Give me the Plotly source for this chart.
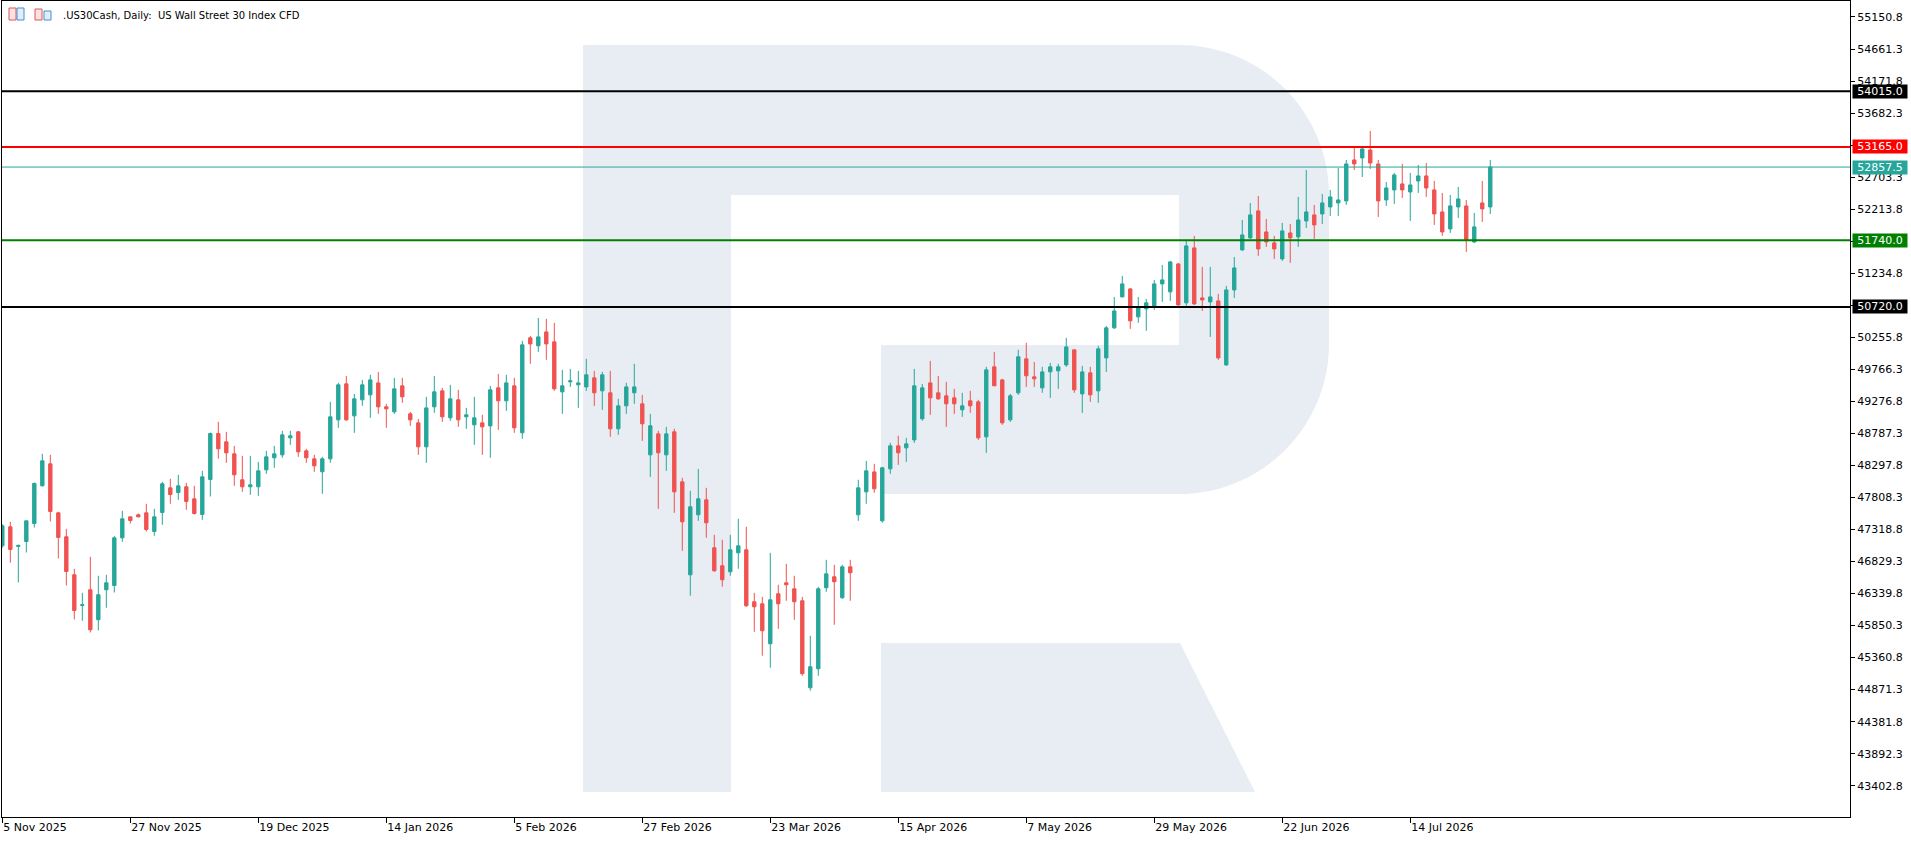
import plotly.graph_objects as go
import pandas as pd

# ---------------- data ----------------
HOLIDAYS = ["2025-12-25", "2026-01-01", "2026-04-03"]
N_BARS = 187
_bdays = pd.bdate_range("2025-11-05", periods=200)
dates = [d.strftime("%Y-%m-%d") for d in _bdays if d.strftime("%Y-%m-%d") not in HOLIDAYS][:N_BARS]

open_ = [47069, 47359, 47060, 47135, 47410, 47986, 48322, 47573, 47207, 46626,
         46158, 46397, 45939, 46397, 46463, 47191, 47512, 47543, 47573, 47288,
         47579, 47955, 47884, 47971, 47787, 47548, 48083, 48785, 48658, 48475,
         48078, 47971, 47971, 48230, 48414, 48459, 48719, 48811, 48520, 48398,
         48200, 48398, 48994, 49544, 49055, 49300, 49376, 49559, 49193, 49116,
         49514, 49086, 48948, 48582, 49193, 49437, 49025, 49300, 49040, 48918,
         48948, 48902, 49483, 49285, 49514, 48796, 50247, 50125, 50338, 50186,
         49422, 49575, 49529, 49498, 49636, 49437, 49407, 48857, 49208, 49407,
         49239, 48459, 48780, 48459, 48811, 48047, 46626, 47543, 47772, 47039,
         46764, 46672, 46962, 47008, 46214, 46183, 45572, 46336, 46504, 46412,
         46229, 44900, 45190, 46428, 46596, 46275, 46748, 47543, 47894, 48199,
         47451, 48245, 48597, 48566, 48688, 49010, 49559, 49407, 49361, 49330,
         49147, 49285, 49269, 48734, 49804, 49605, 48994, 49407, 49926, 49651,
         49483, 49728, 49743, 49834, 50064, 49391, 49712, 49437, 49941, 50400,
         50873, 50995, 50568, 50690, 50720, 51072, 50950, 51377, 50782, 51622,
         50858, 50797, 50812, 49834, 50980, 51591, 51775, 52187, 51866, 51698,
         51454, 51851, 51790, 52034, 52126, 52141, 52248, 52309, 52340, 52966,
         52997, 53119, 52905, 52355, 52508, 52600, 52477, 52645, 52722, 52508,
         52172, 51912, 52248, 52263, 51713, 52309, 52248]
high = [47400, 47436, 47085, 47451, 48037, 48475, 48459, 47589, 47329, 46718,
        46351, 46901, 46611, 46626, 47217, 47604, 47512, 47563, 47711, 47634,
        48047, 48093, 48154, 48032, 47986, 48215, 48801, 48964, 48811, 48597,
        48444, 48444, 48352, 48521, 48597, 48826, 48826, 48826, 48551, 48459,
        48429, 49269, 49559, 49666, 49391, 49605, 49682, 49727, 49239, 49636,
        49636, 49116, 49009, 49346, 49666, 49483, 49529, 49453, 49178, 49346,
        49071, 49514, 49697, 49682, 49636, 50201, 50277, 50552, 50537, 50476,
        49758, 49773, 49743, 49926, 49743, 49727, 49743, 49315, 49559, 49850,
        49376, 49086, 48826, 48887, 48857, 48108, 47909, 48245, 47955, 47237,
        47161, 47237, 47482, 47360, 46351, 46290, 46962, 46474, 46794, 46611,
        46290, 45694, 46443, 46855, 46779, 46779, 46855, 48078, 48368, 48322,
        48276, 48643, 48750, 48719, 49773, 49544, 49895, 49666, 49575, 49468,
        49407, 49437, 49300, 49804, 50033, 49621, 49391, 50064, 50171, 49880,
        49804, 49865, 49850, 50247, 50064, 49819, 49804, 50125, 50430, 50873,
        51194, 51011, 50873, 50843, 51133, 51362, 51423, 51393, 51729, 51805,
        51332, 51332, 50919, 51041, 51484, 52049, 52309, 52416, 52065, 51805,
        52004, 51988, 52401, 52813, 52279, 52447, 52508, 52844, 52966, 53150,
        53150, 53409, 52966, 52630, 52768, 52905, 52768, 52890, 52920, 52645,
        52462, 52431, 52554, 52355, 52156, 52645, 52966]
low = [47040, 46810, 46509, 46967, 47349, 47976, 47441, 46876, 46463, 45944,
       45924, 45745, 45776, 46122, 46356, 47130, 47410, 47502, 47288, 47222,
       47390, 47711, 47772, 47619, 47548, 47467, 47823, 48400, 48337, 47986,
       47894, 47848, 47833, 48169, 48261, 48414, 48612, 48429, 48337, 48200,
       47864, 48337, 48872, 48979, 48796, 49208, 49025, 49086, 48872, 49086,
       49254, 48902, 48459, 48337, 49101, 48963, 48979, 48887, 48857, 48612,
       48459, 48414, 48841, 49132, 48796, 48704, 49850, 50033, 49911, 49437,
       49086, 49498, 49177, 49437, 49208, 49147, 48735, 48765, 49086, 49239,
       48673, 48123, 47634, 48215, 47573, 46993, 46306, 47451, 47191, 46672,
       46443, 46611, 46718, 46137, 45755, 45389, 45206, 45801, 46229, 45938,
       45083, 44854, 45083, 46366, 45862, 46260, 46229, 47451, 47711, 47879,
       47421, 48169, 48306, 48352, 48643, 48979, 49071, 49300, 48887, 49086,
       49040, 49101, 48689, 48490, 49514, 48918, 48963, 49376, 49498, 49498,
       49407, 49330, 49468, 49804, 49407, 49101, 49269, 49254, 49727, 50384,
       50873, 50384, 50476, 50354, 50675, 50797, 50812, 50736, 50736, 50751,
       50659, 50262, 49911, 49819, 50858, 51576, 51759, 51500, 51637, 51454,
       51423, 51393, 51637, 51927, 51759, 51988, 52111, 52111, 52279, 52813,
       52706, 52829, 52095, 52263, 52294, 52386, 52034, 52462, 52401, 51973,
       51805, 51851, 52080, 51561, 51698, 52019, 52141]
close = [47375, 47013, 47075, 47451, 48022, 48368, 47594, 47197, 46677, 46081,
         46168, 45786, 46321, 46504, 47191, 47482, 47456, 47512, 47319, 47512,
         48017, 47853, 47986, 47747, 47563, 48123, 48785, 48551, 48490, 48154,
         47971, 48001, 48215, 48429, 48475, 48765, 48750, 48505, 48414, 48291,
         48398, 49040, 49529, 48994, 49315, 49529, 49605, 49193, 49162, 49468,
         49346, 48994, 48582, 49177, 49422, 49040, 49315, 48994, 49071, 49025,
         48887, 49453, 49285, 49559, 48872, 50140, 50155, 50262, 50155, 49468,
         49514, 49590, 49559, 49682, 49407, 49682, 48857, 49208, 49498, 49498,
         48933, 48903, 48490, 48780, 47894, 47436, 47665, 47787, 47421, 46687,
         46550, 47008, 47069, 46153, 46137, 45771, 46244, 46183, 46474, 46214,
         45114, 45221, 46412, 46641, 46520, 46748, 46657, 47955, 48215, 47940,
         48261, 48597, 48490, 48627, 49514, 49483, 49330, 49315, 49239, 49239,
         49208, 49208, 48719, 49758, 49514, 48948, 49361, 49957, 49667, 49621,
         49727, 49804, 49804, 50109, 49453, 49727, 49376, 50079, 50400, 50659,
         51072, 50507, 50705, 50782, 51072, 51133, 51408, 50751, 51652, 50766,
         50827, 50873, 49941, 50980, 51316, 51820, 52126, 51606, 51713, 51606,
         51882, 51775, 52049, 52172, 51973, 52309, 52401, 52355, 52905, 52905,
         53134, 52920, 52340, 52538, 52737, 52508, 52584, 52722, 52538, 52141,
         51866, 52264, 52370, 51744, 51943, 52218, 52857.5]

TICK_DATES = ["2025-11-05", "2025-11-27", "2025-12-19", "2026-01-14", "2026-02-05",
              "2026-02-27", "2026-03-23", "2026-04-15", "2026-05-07", "2026-05-29",
              "2026-06-22", "2026-07-14"]
TICK_LABELS = ["5 Nov 2025", "27 Nov 2025", "19 Dec 2025", "14 Jan 2026", "5 Feb 2026",
               "27 Feb 2026", "23 Mar 2026", "15 Apr 2026", "7 May 2026", "29 May 2026",
               "22 Jun 2026", "14 Jul 2026"]
Y_TICKS = [43402.8, 43892.3, 44381.8, 44871.3, 45360.8, 45850.3, 46339.8, 46829.3,
           47318.8, 47808.3, 48297.8, 48787.3, 49276.8, 49766.3, 50255.8, 50745.3,
           51234.8, 51724.3, 52213.8, 52703.3, 53192.8, 53682.3, 54171.8, 54661.3,
           55150.8]
Y_TICK_LABELS = ["43402.8", "43892.3", "44381.8", "44871.3", "45360.8", "45850.3",
                 "46339.8", "46829.3", "47318.8", "47808.3", "48297.8", "48787.3",
                 "49276.8", "49766.3", "50255.8", "", "51234.8", "", "52213.8",
                 "52703.3", "", "53682.3", "54171.8", "54661.3", "55150.8"]
LEVELS = [54015.0, 53165.0, 51740.0, 50720.0]
LEVEL_COLORS = ["#000000", "#FF0000", "#008000", "#000000"]
LEVEL_WIDTHS = [2, 2, 2, 2]
CURRENT_PRICE = 52857.5
TITLE = ".US30Cash, Daily:  US Wall Street 30 Index CFD"

# ---------------- layout geometry (pixels) ----------------
W, H = 1911, 841
L, R, T, B = 2, 61, 1, 24
PW, PH = W - L - R, H - T - B
UP, DOWN = "#26A69A", "#EF5350"
WM = "#E8EDF4"
FONT = "DejaVu Sans"


def px(x):
    return (x - L) / PW


def py(y):
    return 1 - (y - T) / PH


fig = go.Figure()
fig.add_trace(go.Candlestick(
    x=dates, open=open_, high=high, low=low, close=close,
    increasing=dict(line=dict(color=UP, width=1), fillcolor=UP),
    decreasing=dict(line=dict(color=DOWN, width=1), fillcolor=DOWN),
    whiskerwidth=0, showlegend=False, hoverinfo="skip",
))

shapes = []


def rect(x0, y0, x1, y1, color=WM, line=None, lw=0):
    shapes.append(dict(type="rect", xref="paper", yref="paper",
                       x0=px(x0), x1=px(x1), y0=py(y1), y1=py(y0),
                       fillcolor=color, line=dict(width=lw, color=line or color),
                       layer="below"))


def path(points_cmds):
    shapes.append(dict(type="path", xref="paper", yref="paper", path=points_cmds,
                       fillcolor=WM, line=dict(width=0), layer="below"))


def P(x, y):
    return f"{px(x):.6f},{py(y):.6f}"


# watermark "R"
rect(583, 45, 731, 792)          # stem
rect(731, 45, 1180, 195)         # top band
rect(881, 345, 1180, 494)        # lower band of bowl
kk = 0.5523 * 150
path(f"M{P(1179,45)} C{P(1179+kk,45)} {P(1329,195-kk)} {P(1329,195)} "
     f"L{P(1329,344)} C{P(1329,344+kk)} {P(1179+kk,494)} {P(1179,494)} Z")
path(f"M{P(881,643)} L{P(1180,643)} L{P(1255,792)} L{P(881,792)} Z")

# small toolbar icons
rect(9, 8, 16, 20, color="#FBE3E3", line="#E05555", lw=1)
rect(17, 8, 24, 20, color="#E3EEFB", line="#4A8BD6", lw=1)
rect(35, 9, 42, 20, color="#FBE3E3", line="#E05555", lw=1)
rect(44, 11, 51, 20, color="#E3EEFB", line="#4A8BD6", lw=1)

# level lines
for lv, c, w in zip(LEVELS, LEVEL_COLORS, LEVEL_WIDTHS):
    shapes.append(dict(type="line", xref="paper", yref="y", x0=0, x1=1, y0=lv, y1=lv,
                       line=dict(color=c, width=w)))
shapes.append(dict(type="line", xref="paper", yref="y", x0=0, x1=1,
                   y0=CURRENT_PRICE, y1=CURRENT_PRICE, line=dict(color=UP, width=1)))

annotations = []
for lv, c in list(zip(LEVELS, LEVEL_COLORS)) + [(CURRENT_PRICE, UP)]:
    annotations.append(dict(xref="paper", yref="y", x=1, y=lv, xanchor="left",
                            yanchor="middle", xshift=2, text=f"{lv:.1f}",
                            showarrow=False, bgcolor=c, width=54, height=13,
                            borderpad=0, font=dict(family=FONT, size=11, color="white")))
annotations.append(dict(xref="paper", yref="paper", x=px(61), y=py(15), xanchor="left",
                        yanchor="middle", text=TITLE, showarrow=False,
                        font=dict(family=FONT, size=10, color="black")))

fig.update_layout(
    width=W, height=H,
    margin=dict(l=L, r=R, t=T, b=B),
    paper_bgcolor="white", plot_bgcolor="white",
    shapes=shapes, annotations=annotations,
    showlegend=False, boxgap=0.4,
    font=dict(family=FONT, size=11, color="black"),
    xaxis=dict(type="category", categoryorder="array", categoryarray=dates,
               range=[-0.04, 230.97], rangeslider=dict(visible=False),
               tickmode="array", tickvals=TICK_DATES, ticktext=TICK_LABELS,
               ticks="outside", ticklen=5, tickcolor="black",
               ticklabelposition="outside right",
               showgrid=False, zeroline=False, showline=True, mirror=True,
               linecolor="black", linewidth=1,
               tickfont=dict(family=FONT, size=11, color="black")),
    yaxis=dict(side="right", range=[42924.6, 55395.2], tickmode="array",
               tickvals=Y_TICKS, ticktext=Y_TICK_LABELS,
               ticks="outside", ticklen=4, tickcolor="black",
               showgrid=False, zeroline=False, showline=True, mirror=True,
               linecolor="black", linewidth=1,
               tickfont=dict(family=FONT, size=11, color="black")),
)

fig.write_html("out.html", config={"displayModeBar": False},
               post_script="document.body.style.margin='0';document.body.style.overflow='hidden';")
